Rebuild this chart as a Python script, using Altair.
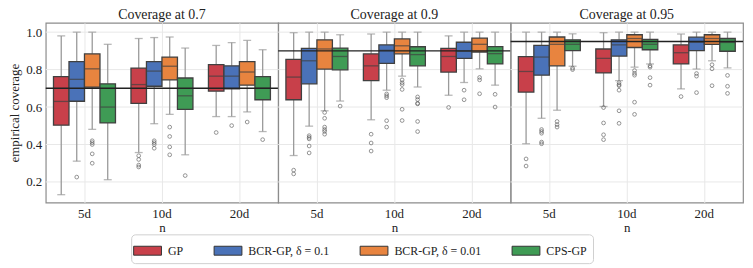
import altair as alt
import pandas as pd

methods = ["GP", "BCR-GP, δ = 0.1", "BCR-GP, δ = 0.01", "CPS-GP"]
sizes = ["5d", "10d", "20d"]
targets = [0.7, 0.9, 0.95]
titles = ["Coverage at 0.7", "Coverage at 0.9", "Coverage at 0.95"]
colors = ["#c8404a", "#4a72b8", "#e8843f", "#3f9b55"]
y_ticks = [0.2, 0.4, 0.6, 0.8, 1.0]

# box statistics, order: 5d (GP, BCR .1, BCR .01, CPS), 10d (...), 20d (...)
p1_lo  = [0.132, 0.311, 0.481, 0.212, 0.357, 0.511, 0.561, 0.345, 0.549, 0.549, 0.574, 0.469]
p1_q1  = [0.503, 0.631, 0.706, 0.515, 0.620, 0.711, 0.745, 0.588, 0.685, 0.697, 0.717, 0.639]
p1_med = [0.630, 0.748, 0.804, 0.600, 0.720, 0.792, 0.818, 0.660, 0.765, 0.765, 0.787, 0.700]
p1_q3  = [0.762, 0.843, 0.884, 0.724, 0.808, 0.843, 0.867, 0.755, 0.826, 0.820, 0.842, 0.762]
p1_hi  = [0.980, 1.000, 1.000, 0.935, 0.966, 0.971, 0.974, 0.915, 0.929, 0.944, 0.956, 0.906]

p2_lo  = [0.341, 0.498, 0.580, 0.632, 0.532, 0.690, 0.765, 0.707, 0.663, 0.731, 0.804, 0.717]
p2_q1  = [0.639, 0.724, 0.803, 0.799, 0.741, 0.833, 0.884, 0.820, 0.787, 0.860, 0.894, 0.830]
p2_med = [0.760, 0.847, 0.910, 0.870, 0.820, 0.903, 0.927, 0.880, 0.870, 0.898, 0.935, 0.885]
p2_q3  = [0.855, 0.913, 0.959, 0.915, 0.884, 0.932, 0.964, 0.922, 0.913, 0.946, 0.968, 0.923]
p2_hi  = [0.997, 1.000, 1.000, 0.986, 0.990, 1.000, 1.000, 1.000, 0.980, 1.000, 1.000, 1.000]

p3_lo  = [0.404, 0.540, 0.583, 0.818, 0.603, 0.741, 0.813, 0.830, 0.697, 0.803, 0.847, 0.809]
p3_q1  = [0.680, 0.770, 0.820, 0.901, 0.782, 0.872, 0.918, 0.906, 0.830, 0.901, 0.935, 0.898]
p3_med = [0.790, 0.867, 0.935, 0.935, 0.860, 0.932, 0.966, 0.935, 0.890, 0.946, 0.966, 0.945]
p3_q3  = [0.869, 0.929, 0.974, 0.959, 0.910, 0.959, 0.986, 0.961, 0.932, 0.973, 0.986, 0.966]
p3_hi  = [1.000, 1.000, 1.000, 0.991, 0.997, 1.000, 1.000, 1.000, 0.990, 1.000, 1.000, 1.000]

# outliers: (n, method index, value)
p1_out = [("5d", 1, 0.226), ("5d", 2, 0.42), ("5d", 2, 0.41), ("5d", 2, 0.40), ("5d", 2, 0.35), ("5d", 2, 0.30),
          ("10d", 0, 0.34), ("10d", 0, 0.32), ("10d", 0, 0.29), ("10d", 0, 0.28),
          ("10d", 1, 0.42), ("10d", 1, 0.41), ("10d", 1, 0.40), ("10d", 1, 0.38),
          ("10d", 2, 0.493), ("10d", 2, 0.443), ("10d", 2, 0.387), ("10d", 2, 0.345), ("10d", 3, 0.234),
          ("20d", 0, 0.464), ("20d", 1, 0.501), ("20d", 2, 0.520), ("20d", 3, 0.426)]
p2_out = [("5d", 0, 0.263), ("5d", 0, 0.243),
          ("5d", 1, 0.447), ("5d", 1, 0.438), ("5d", 1, 0.430), ("5d", 1, 0.392), ("5d", 1, 0.355),
          ("5d", 2, 0.571), ("5d", 2, 0.540), ("5d", 2, 0.493), ("5d", 2, 0.48), ("5d", 2, 0.47), ("5d", 2, 0.455),
          ("5d", 3, 0.605),
          ("10d", 0, 0.455), ("10d", 0, 0.408), ("10d", 0, 0.365),
          ("10d", 1, 0.67), ("10d", 1, 0.66), ("10d", 1, 0.65), ("10d", 1, 0.527), ("10d", 1, 0.493),
          ("10d", 2, 0.745), ("10d", 2, 0.73), ("10d", 2, 0.72), ("10d", 2, 0.694), ("10d", 2, 0.588), ("10d", 2, 0.528),
          ("10d", 3, 0.654), ("10d", 3, 0.64), ("10d", 3, 0.62), ("10d", 3, 0.617), ("10d", 3, 0.523), ("10d", 3, 0.469),
          ("20d", 0, 0.598), ("20d", 1, 0.690), ("20d", 1, 0.639),
          ("20d", 2, 0.758), ("20d", 2, 0.745), ("20d", 2, 0.671), ("20d", 3, 0.668), ("20d", 3, 0.600)]
p3_out = [("5d", 0, 0.323), ("5d", 0, 0.285),
          ("5d", 1, 0.48), ("5d", 1, 0.47), ("5d", 1, 0.46), ("5d", 1, 0.413), ("5d", 1, 0.404),
          ("5d", 2, 0.523), ("5d", 2, 0.506), ("5d", 2, 0.493), ("5d", 3, 0.808), ("5d", 3, 0.80),
          ("10d", 0, 0.597), ("10d", 0, 0.515), ("10d", 0, 0.452), ("10d", 0, 0.426),
          ("10d", 1, 0.73), ("10d", 1, 0.72), ("10d", 1, 0.714), ("10d", 1, 0.690), ("10d", 1, 0.580), ("10d", 1, 0.513),
          ("10d", 2, 0.795), ("10d", 2, 0.78), ("10d", 2, 0.77), ("10d", 2, 0.626), ("10d", 2, 0.561),
          ("10d", 3, 0.82), ("10d", 3, 0.813), ("10d", 3, 0.757), ("10d", 3, 0.717),
          ("20d", 0, 0.656), ("20d", 1, 0.779), ("20d", 1, 0.765), ("20d", 1, 0.677),
          ("20d", 2, 0.826), ("20d", 2, 0.804), ("20d", 2, 0.714),
          ("20d", 3, 0.769), ("20d", 3, 0.711), ("20d", 3, 0.673)]

FONT = "Liberation Serif"
PANEL_W = 234
PANEL_H = 181

panels = [
    (p1_lo, p1_q1, p1_med, p1_q3, p1_hi, p1_out),
    (p2_lo, p2_q1, p2_med, p2_q3, p2_hi, p2_out),
    (p3_lo, p3_q1, p3_med, p3_q3, p3_hi, p3_out),
]

color_scale = alt.Scale(domain=methods, range=colors)
y_scale = alt.Scale(domain=[0.09, 1.05], nice=False, zero=False)
x_scale = alt.Scale(domain=sizes, paddingInner=0.2, paddingOuter=0.1)
off_scale = alt.Scale(domain=methods, paddingInner=0, paddingOuter=0)


def make_panel(i):
    lo, q1, med, q3, hi, outs = panels[i]
    rows = []
    k = 0
    for s in sizes:
        for m in methods:
            rows.append({"n": s, "method": m, "lo": lo[k], "q1": q1[k], "med": med[k], "q3": q3[k], "hi": hi[k]})
            k += 1
    df = pd.DataFrame(rows)
    odf = pd.DataFrame([{"n": s, "method": methods[j], "v": v} for (s, j, v) in outs])

    if i == 0:
        yaxis = alt.Axis(title="empirical coverage", values=y_ticks, format=".1f",
                         grid=False, ticks=False, domain=False, labelPadding=4, titlePadding=4)
    else:
        yaxis = None
    xaxis = alt.Axis(title="n", grid=True, ticks=False, domain=False, labelAngle=0,
                     bandPosition=0.5, labelPadding=5, titlePadding=1)

    X = alt.X("n:N", sort=sizes, scale=x_scale, axis=xaxis)
    XO = alt.XOffset("method:N", sort=methods, scale=off_scale)

    grid = alt.Chart(pd.DataFrame({"g": y_ticks})).mark_rule(color="#e8e8e8", strokeWidth=1).encode(
        y=alt.Y("g:Q", scale=y_scale, axis=yaxis))

    base = alt.Chart(df)
    whisk_lo = base.mark_rule(color="#9a9a9a", strokeWidth=1.3).encode(
        x=X, xOffset=XO, y=alt.Y("lo:Q", scale=y_scale, axis=yaxis), y2="q1:Q")
    whisk_hi = base.mark_rule(color="#9a9a9a", strokeWidth=1.3).encode(
        x=X, xOffset=XO, y=alt.Y("q3:Q", scale=y_scale, axis=yaxis), y2="hi:Q")
    cap_lo = base.mark_tick(color="#9a9a9a", size=8, thickness=1.3).encode(
        x=X, xOffset=XO, y=alt.Y("lo:Q", scale=y_scale, axis=yaxis))
    cap_hi = base.mark_tick(color="#9a9a9a", size=8, thickness=1.3).encode(
        x=X, xOffset=XO, y=alt.Y("hi:Q", scale=y_scale, axis=yaxis))
    boxes = base.mark_bar(stroke="#404040", strokeWidth=1.3).encode(
        x=X, xOffset=XO,
        y=alt.Y("q1:Q", scale=y_scale, axis=yaxis), y2="q3:Q",
        color=alt.Color("method:N", sort=methods, scale=color_scale,
                        legend=alt.Legend(title=None, orient="none", legendX=86, legendY=213,
                                          direction="horizontal", columns=4)))
    medians = base.mark_tick(color="#404040", size=15, thickness=1.3).encode(
        x=X, xOffset=XO, y=alt.Y("med:Q", scale=y_scale, axis=yaxis))
    points = alt.Chart(odf).mark_point(shape="circle", filled=False, size=14, color="#555555",
                                       strokeWidth=0.9).encode(
        x=X, xOffset=XO, y=alt.Y("v:Q", scale=y_scale, axis=yaxis))
    ref = alt.Chart(pd.DataFrame({"t": [targets[i]]})).mark_rule(color="#222222", strokeWidth=1.4).encode(
        y=alt.Y("t:Q", scale=y_scale, axis=yaxis))

    return alt.layer(grid, whisk_lo, whisk_hi, cap_lo, cap_hi, boxes, medians, points, ref).properties(
        width=PANEL_W, height=PANEL_H, title=titles[i])


chart = alt.hconcat(make_panel(0), make_panel(1), make_panel(2), spacing=0, bounds="flush").resolve_scale(
    color="shared"
).properties(
    padding={"top": -2, "left": 0, "right": 0, "bottom": 0}
).configure(
    font=FONT
).configure_view(
    stroke="#8c8c8c", strokeWidth=1.2
).configure_axis(
    labelFont=FONT, titleFont=FONT, labelFontSize=13, titleFontSize=13,
    labelColor="#222222", titleColor="#222222", titleFontWeight="normal",
    gridColor="#e8e8e8", gridWidth=1
).configure_title(
    font=FONT, fontSize=14, fontWeight="normal", color="#222222", offset=1
).configure_legend(
    labelFont=FONT, labelFontSize=12, labelColor="#222222",
    symbolType="M-1.4,-0.45H1.4V0.45H-1.4Z", symbolSize=400, symbolStrokeColor="#333333",
    symbolStrokeWidth=1, symbolOpacity=1, labelOffset=10, columnPadding=28,
    strokeColor="#d0d0d0", fillColor="white", cornerRadius=4, padding=6
)

chart.save("out.html", embed_options={"renderer": "svg", "actions": False})
